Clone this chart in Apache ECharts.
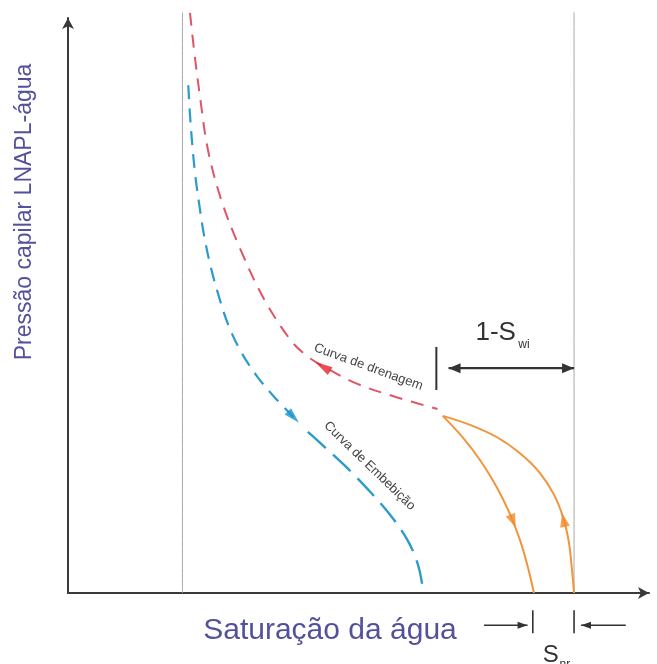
<!DOCTYPE html>
<html><head><meta charset="utf-8">
<script src="https://cdn.jsdelivr.net/npm/echarts@6/dist/echarts.min.js"></script>
<style>html,body{margin:0;padding:0;background:#fff}#c{width:657px;height:664px}</style>
</head><body><div id="c"></div>
<script>
// Reference saturation lines (x values) and their top
const refLinesX = [19.7, 87.1];
const refLineTop = 101;
// Curva de drenagem (primary drainage)
const drainageX = [21.0,21.7,22.8,24.1,26.4,29.7,33.8,38.3,40.9,43.8,49.5,56.4,63.6];
const drainageY = [100.9,94.4,85.7,77.0,68.3,59.7,51.0,44.0,41.4,39.5,36.5,34.1,32.0];
// Curva de Embebição (imbibition), upper and lower part
const imbibUpperX = [20.7,21.0,21.4,21.9,22.6,23.4,24.5,25.9,27.6,29.8,32.6,35.5,38.8];
const imbibUpperY = [88.3,83.1,77.9,72.7,67.5,62.3,57.0,51.8,46.6,41.9,37.6,34.1,30.6];
const imbibLowerX = [40.0,43.4,48.1,52.2,55.9,58.6,60.3,61.2];
const imbibLowerY = [29.2,26.1,21.7,17.4,13.0,8.9,4.7,0];
// Scanning curves (orange)
const scanImbX = [64.5,67.9,71.0,73.8,76.0,77.8,79.1,80.2];
const scanImbY = [30.8,27.1,23.0,18.4,13.9,9.2,4.7,0];
const scanDrainX = [64.5,69.3,74.0,77.9,81.2,83.6,85.2,86.2,86.7,87.1];
const scanDrainY = [30.8,29.2,27.0,24.2,20.9,17.2,13.2,8.9,4.5,0];
// Direction arrows on curves
const arrowX = [43.8, 38.8, 76.6, 85.3];
const arrowY = [39.4, 30.6, 12.5, 12.7];
// Texts
const xTitle = 'Saturação da água';
const yTitle = 'Pressão capilar LNAPL-água';
const drainLabel = 'Curva de drenagem';
const imbibLabel = 'Curva de Embebição';

const zip = (xs, ys) => xs.map((x, i) => [x, ys[i]]);
const FONT = "'Liberation Sans', Arial, sans-serif";
const axisLineCfg = {show:true, onZero:false, symbol:['none','arrow'], symbolSize:[9,11],
  lineStyle:{color:'#3a3a3a', width:2}};

function lineSeries(data, color, width, dash, z, offset) {
  return {type:'line', data, smooth:0.35, showSymbol:false, clip:false, silent:true, z:z||2,
    lineStyle:{color, width, type:dash||'solid', dashOffset: offset||0}};
}

const arrowColors = ['#e3202c', '#1c93c9', '#f08a28', '#f08a28'];
const arrowRot = [59, -136, -158, 12];
const arrowSize = [[9,18],[9,16],[10,14],[10,14]];

const option = {
  animation:false,
  backgroundColor:'#ffffff',
  grid:{left:68, right:8, top:18, bottom:71},
  xAxis:{type:'value', min:0, max:100, axisLine:axisLineCfg, axisTick:{show:false}, axisLabel:{show:false}, splitLine:{show:false}},
  yAxis:{type:'value', min:0, max:100, axisLine:axisLineCfg, axisTick:{show:false}, axisLabel:{show:false}, splitLine:{show:false}},
  series:[
    ...refLinesX.map(x => lineSeries([[x,0],[x,refLineTop]], '#a8a8a8', 1, 'solid', 1)),
    lineSeries(zip(drainageX, drainageY), '#de5567', 2, [13,9]),
    lineSeries(zip(imbibUpperX, imbibUpperY), '#2c9bcc', 2.2, [14,9]),
    lineSeries(zip(imbibLowerX, imbibLowerY), '#2c9bcc', 2.4, [24,10], 2, 24),
    lineSeries(zip(scanImbX, scanImbY), '#f0953c', 2),
    lineSeries(zip(scanDrainX, scanDrainY), '#f0953c', 2),
    {type:'scatter', clip:false, silent:true, z:5,
      data: arrowX.map((x, i) => ({value:[x, arrowY[i]], symbol:'triangle', symbolRotate:arrowRot[i],
        symbolSize:arrowSize[i], itemStyle:{color:arrowColors[i]}}))}
  ]
};

const chart = echarts.init(document.getElementById('c'), null, {renderer:'canvas'});
chart.setOption(option);

const P = (x, y) => chart.convertToPixel({gridIndex:0}, [x, y]);
const g = [];
function seg(a, b, w) {
  g.push({type:'line', shape:{x1:a[0], y1:a[1], x2:b[0], y2:b[1]}, style:{stroke:'#333', lineWidth:w}, z:10});
}
function head(tip, from, len, hw) {
  const dx = tip[0]-from[0], dy = tip[1]-from[1], L = Math.hypot(dx, dy), ux = dx/L, uy = dy/L;
  const bx = tip[0]-ux*len, by = tip[1]-uy*len;
  g.push({type:'polygon', shape:{points:[tip, [bx-uy*hw, by+ux*hw], [bx+uy*hw, by-ux*hw]]}, style:{fill:'#333'}, z:10});
}
function text(pos, str, size, fill, opts) {
  g.push(Object.assign({type:'text', x:pos[0], y:pos[1], z:10,
    style:{text:str, font:size+'px '+FONT, fill, align:'center', verticalAlign:'middle'}}, opts||{}));
}

// 1 - Swi bracket
const swiA = P(65.5, 39.1), swiB = P(87.1, 39.1);
seg(swiA, swiB, 2.2); head(swiA, swiB, 12, 5); head(swiB, swiA, 12, 5);
seg(P(63.4, 42.8), P(63.4, 35.3), 2);
const t1 = P(77.1, 45.3);
g.push({type:'text', x:t1[0], y:t1[1], z:10, style:{text:'1-S', font:'26px '+FONT, fill:'#333', align:'right', verticalAlign:'middle'}});
const t2 = P(77.5, 43.2);
g.push({type:'text', x:t2[0], y:t2[1], z:10, style:{text:'wi', font:'12px '+FONT, fill:'#333', align:'left', verticalAlign:'middle'}});

// Snr bracket below axis
seg(P(80.0, -3.0), P(80.0, -7.0), 1.6);
seg(P(87.1, -3.0), P(87.1, -7.0), 1.6);
const la = P(71.6, -5.6), lt = P(79.1, -5.6);
seg(la, lt, 1.5); head(lt, la, 10, 3.5);
const ra = P(96.0, -5.6), rt = P(88.3, -5.6);
seg(ra, rt, 1.5); head(rt, ra, 10, 3.5);
const s1 = P(83.1, -10.8);
text(s1, 'S', 24, '#333');
const s2 = P(84.6, -12.5);
g.push({type:'text', x:s2[0], y:s2[1], z:10, style:{text:'nr', font:'12px '+FONT, fill:'#333', align:'left', verticalAlign:'middle'}});

// Curve labels
text(P(51.7, 39.3), drainLabel, 13, '#444', {rotation:-20*Math.PI/180});
text(P(51.9, 22.1), imbibLabel, 13, '#444', {rotation:-44*Math.PI/180});

// Axis titles
text([330, 631], xTitle, 30, '#52529b');
text([25, 212], yTitle, 23, '#52529b', {rotation:Math.PI/2});

chart.setOption({graphic:g});
</script>
</body></html>
